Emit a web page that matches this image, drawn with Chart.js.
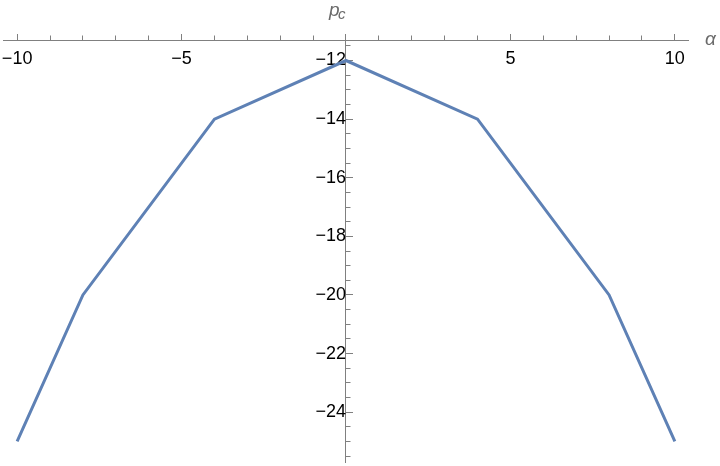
<!DOCTYPE html>
<html>
<head>
<meta charset="utf-8">
<script src="https://cdn.jsdelivr.net/npm/chart.js@4.4.0/dist/chart.umd.min.js"></script>
<style>
  html, body { margin: 0; padding: 0; background: #fff; }
</style>
</head>
<body>
<canvas id="chart" width="720" height="466"></canvas>
<script>
// data
const alphaValues = [-10, -8, -4, 0, 4, 8, 10];
const pcValues = [-25, -20, -14, -12, -14, -20, -25];

const xMin = -10.43, xMax = 10.4;
const yMin = -25.7, yMax = -11.3;

const axisGray = '#808080';
const labelGray = '#6a6a6a';
const lineBlue = 'rgb(94, 129, 181)';
const fontFamily = '"Liberation Sans", Arial, sans-serif';

function minusFmt(v) {
    return String(v).replace('-', '\u2212');
}

// p_c on top of the vertical axis, alpha at the end of the horizontal one
const axisLabels = {
    id: 'axisLabels',
    afterDraw(chart) {
        const ctx = chart.ctx;
        const x = chart.scales.x;
        const y = chart.scales.y;
        const x0 = x.getPixelForValue(0);
        const yTop = y.getPixelForValue(yMax);
        ctx.save();
        ctx.fillStyle = labelGray;
        ctx.textBaseline = 'alphabetic';
        ctx.textAlign = 'left';
        ctx.font = 'italic 19px ' + fontFamily;
        ctx.fillText('p', x0 - 17, yTop - 24);
        ctx.font = 'italic 15px ' + fontFamily;
        ctx.fillText('c', x0 - 8, yTop - 21);
        ctx.font = 'italic 19px ' + fontFamily;
        ctx.fillText('\u03b1', x.right + 17, yTop + 5);
        ctx.restore();
    }
};

const data = {
    datasets: [{
        data: alphaValues.map((a, i) => ({ x: a, y: pcValues[i] })),
        borderColor: lineBlue,
        borderWidth: 3,
        pointRadius: 0,
        fill: false,
        tension: 0
    }]
};

// tick-only scale (no labels), sits on the other axis
function tickScale(axis, step, len, where) {
    return {
        type: 'linear', axis: axis,
        min: axis === 'x' ? xMin : yMin,
        max: axis === 'x' ? xMax : yMax,
        position: where,
        ticks: { stepSize: step, includeBounds: false, autoSkip: false, display: false },
        grid: { drawOnChartArea: false, tickLength: len, color: axisGray },
        border: { display: false }
    };
}

const config = {
    type: 'line',
    data: data,
    options: {
        responsive: false,
        animation: false,
        devicePixelRatio: 1,
        layout: { padding: { left: 3, right: 32, top: 40, bottom: 4 } },
        plugins: {
            legend: { display: false },
            tooltip: { enabled: false }
        },
        scales: {
            x: {
                type: 'linear', min: xMin, max: xMax,
                position: { y: yMax },
                ticks: {
                    stepSize: 5, includeBounds: false, autoSkip: false, maxRotation: 0,
                    padding: 0, color: '#000',
                    font: { family: fontFamily, size: 18, lineHeight: 2.85 },
                    callback: v => v === 0 ? '' : minusFmt(v)
                },
                grid: { drawOnChartArea: false, tickLength: -7, color: axisGray },
                border: { color: axisGray, width: 1 }
            },
            xMinor: tickScale('x', 1, -4.5, { y: yMax }),
            y: {
                type: 'linear', min: yMin, max: yMax,
                position: { x: 0 },
                ticks: {
                    stepSize: 2, includeBounds: false, autoSkip: false,
                    padding: 0, color: '#000',
                    font: { family: fontFamily, size: 18, lineHeight: 0.2 },
                    callback: v => minusFmt(v)
                },
                grid: { drawOnChartArea: false, tickLength: 8, color: axisGray, tickColor: 'rgba(0,0,0,0)' },
                border: { color: axisGray, width: 1 }
            },
            yMajor: tickScale('y', 2, -7, { x: 0 }),
            yMinor: tickScale('y', 0.5, -4.5, { x: 0 })
        }
    },
    plugins: [axisLabels]
};

let myChart = new Chart(document.getElementById('chart'), config);
</script>
</body>
</html>
